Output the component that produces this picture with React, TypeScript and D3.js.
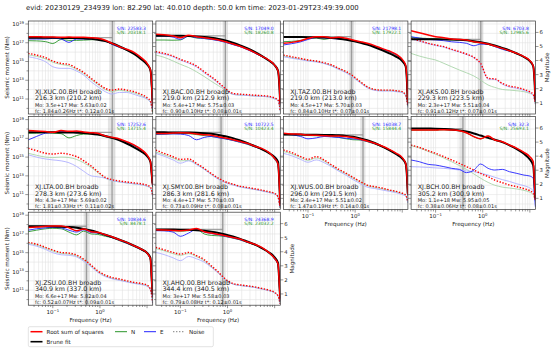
import * as d3 from "d3";

// frequency grid (Hz) shared by every spectrum
const FREQ = [0.03, 0.045, 0.07, 0.1, 0.15, 0.22, 0.32, 0.45, 0.65, 0.9, 1.3, 1.8, 2.6, 3.7, 5.3, 7.5, 10, 11.8, 12.6, 13.1];

const STATIONS = ["XJ.XUC.00.BH broadb", "XJ.BAC.00.BH broadb", "XJ.TAZ.00.BH broadb", "XJ.AKS.00.BH broadb", "XJ.LTA.00.BH broadb", "XJ.SMY.00.BH broadb", "XJ.WUS.00.BH broadb", "XJ.BCH.00.BH broadb", "XJ.ZSU.00.BH broadb", "XJ.AHQ.00.BH broadb"];
const DIST = ["216.3 km (210.2 km)", "219.0 km (212.9 km)", "219.0 km (213.0 km)", "229.3 km (223.5 km)", "278.3 km (273.6 km)", "286.3 km (281.6 km)", "296.0 km (291.5 km)", "305.2 km (300.9 km)", "340.9 km (337.0 km)", "344.4 km (340.5 km)"];
const MO_TEXT = ["3.5e+17", "5.4e+17", "4.5e+17", "2.3e+17", "4.3e+17", "4.4e+17", "2.4e+17", "1.1e+18", "6.6e+17", "3e+17"];
const MO_VAL = [3.5e17, 5.4e17, 4.5e17, 2.3e17, 4.3e17, 4.4e17, 2.4e17, 1.1e18, 6.6e17, 3e17];
const MW_TEXT = ["5.63±0.02", "5.75±0.03", "5.70±0.03", "5.51±0.04", "5.69±0.02", "5.70±0.03", "5.51±0.02", "5.95±0.05", "5.82±0.04", "5.58±0.03"];
const FC_VAL = [1.84, 0.9, 0.84, 0.91, 1.81, 0.73, 1.47, 0.38, 0.52, 0.79];
const FC_ERR = [0.26, 0.1, 0.1, 0.12, 0.33, 0.09, 0.19, 0.06, 0.07, 0.08];
const TSTAR_TEXT = ["0.12±0.01", "0.08±0.01", "0.07±0.01", "0.07±0.01", "0.11±0.02", "0.08±0.01", "0.14±0.01", "0.08±0.01", "0.09±0.01", "0.12±0.01"];
const SN_E = ["22583.3", "17049.0", "21798.1", "6703.8", "17252.6", "10722.5", "16038.7", "32.3", "10834.6", "24368.9"];
const SN_N = ["20318.1", "18260.8", "17922.1", "12985.6", "13715.4", "10423.4", "15844.4", "25693.1", "8478.1", "23032.2"];

// log10 seismic moment, one row per station
const rssLog = [
  [17.65, 17.65, 17.61, 17.61, 17.58, 17.61, 17.58, 17.58, 17.54, 17.47, 17.26, 16.94, 16.58, 16.3, 15.98, 15.41, 14.8, 14.09, 12.13, 10.17],
  [17.9, 17.86, 17.72, 17.54, 17.79, 17.65, 17.54, 17.43, 17.29, 17.11, 16.86, 16.65, 16.33, 15.98, 15.58, 15.16, 14.62, 14.0, 12.3, 10.4],
  [16.94, 17.04, 17.22, 17.47, 17.65, 17.65, 17.54, 17.58, 17.47, 17.29, 17.11, 16.94, 16.69, 16.4, 16.12, 15.76, 15.23, 14.62, 12.8, 10.5],
  [18.29, 18.07, 17.83, 17.65, 17.54, 17.4, 17.36, 17.29, 17.11, 17.01, 16.86, 16.65, 16.4, 16.15, 15.87, 15.51, 15.09, 14.52, 12.8, 10.8],
  [17.83, 17.79, 17.72, 17.65, 17.83, 17.75, 17.79, 17.68, 17.61, 17.54, 17.26, 17.11, 16.94, 16.65, 16.3, 15.83, 15.23, 14.52, 13.0, 12.0],
  [17.53, 17.53, 17.57, 17.6, 17.57, 17.46, 17.39, 17.32, 17.18, 17.04, 16.86, 16.68, 16.47, 16.18, 15.93, 15.51, 14.86, 14.26, 11.9, 9.8],
  [17.54, 17.47, 17.43, 17.36, 17.33, 17.29, 17.26, 17.26, 17.19, 17.08, 16.9, 16.72, 16.47, 16.19, 15.83, 15.41, 14.94, 14.34, 12.9, 11.0],
  [17.89, 17.89, 17.89, 17.89, 17.93, 17.89, 17.82, 17.6, 17.18, 16.96, 17.25, 16.82, 16.64, 16.29, 15.93, 15.51, 15.04, 14.51, 11.84, 10.42],
  [17.7, 17.74, 17.81, 17.84, 17.84, 17.67, 17.35, 17.52, 17.24, 17.17, 16.92, 16.7, 16.38, 16.1, 15.74, 15.39, 14.96, 14.32, 11.83, 10.41],
  [17.45, 17.42, 17.38, 17.35, 17.42, 17.59, 17.24, 17.1, 16.95, 16.81, 16.63, 16.46, 16.17, 15.92, 15.57, 15.03, 14.39, 13.79, 11.47, 9.9],
];
const nLog = [
  [17.22, 17.2, 17.12, 16.92, 17.35, 17.25, 17.25, 17.28, 17.32, 17.34, 17.2, 16.85, 16.5, 16.2, 15.85, 15.38, 14.65, 13.9, 11.5, 9.6],
  [17.29, 17.29, 17.27, 17.3, 17.7, 17.5, 17.45, 17.38, 17.25, 17.08, 16.83, 16.62, 16.3, 15.95, 15.55, 15.12, 14.58, 13.95, 12.2, 10.2],
  [17.11, 17.15, 17.25, 17.42, 17.5, 17.35, 17.5, 17.45, 17.38, 17.22, 17.05, 16.88, 16.63, 16.32, 16.02, 15.68, 15.12, 14.5, 12.6, 10.3],
  [17.58, 17.5, 17.45, 17.42, 17.36, 17.3, 17.3, 17.25, 17.05, 16.98, 16.82, 16.6, 16.35, 16.1, 15.82, 15.45, 15.02, 14.45, 12.7, 10.6],
  [17.54, 17.55, 17.6, 17.55, 17.5, 17.05, 17.3, 17.45, 17.45, 17.4, 17.15, 17.02, 16.86, 16.58, 16.22, 15.75, 15.15, 14.42, 12.85, 11.8],
  [17.4, 17.45, 17.5, 17.52, 17.5, 17.4, 17.3, 17.2, 17.1, 16.95, 16.78, 16.6, 16.38, 16.1, 15.83, 15.4, 14.75, 14.1, 11.7, 9.6],
  [17.42, 17.4, 17.38, 17.3, 17.28, 17.25, 17.2, 17.1, 16.95, 16.85, 16.82, 16.65, 16.4, 16.1, 15.75, 15.32, 14.85, 14.25, 12.8, 10.9],
  [17.87, 17.87, 17.87, 17.87, 17.91, 17.87, 17.8, 17.58, 17.16, 16.94, 17.23, 16.8, 16.62, 16.27, 15.91, 15.49, 15.02, 14.49, 11.8, 10.4],
  [17.24, 17.4, 17.55, 17.6, 17.55, 17.2, 16.9, 17.3, 17.0, 16.95, 16.75, 16.6, 16.28, 16.0, 15.65, 15.3, 14.88, 14.2, 11.7, 10.2],
  [17.38, 17.36, 17.33, 17.3, 17.35, 17.5, 17.0, 16.85, 16.8, 16.72, 16.55, 16.38, 16.1, 15.85, 15.5, 14.95, 14.3, 13.65, 11.3, 9.7],
];
const eLog = [
  [17.4, 17.4, 17.4, 17.47, 17.4, 17.04, 17.4, 17.4, 17.4, 17.36, 17.19, 16.83, 16.51, 16.22, 15.87, 15.41, 14.69, 13.98, 11.78, 10.0],
  [17.72, 17.72, 17.6, 17.36, 17.7, 17.55, 17.45, 17.36, 17.22, 17.05, 16.8, 16.6, 16.28, 15.93, 15.53, 15.1, 14.55, 13.9, 12.2, 10.3],
  [16.76, 16.9, 17.1, 17.35, 17.55, 17.5, 17.45, 17.4, 17.35, 17.2, 17.05, 16.88, 16.63, 16.35, 16.06, 15.7, 15.15, 14.55, 12.7, 10.4],
  [17.65, 17.5, 17.36, 17.3, 17.22, 17.1, 17.04, 16.94, 16.68, 16.86, 16.83, 16.6, 16.3, 16.1, 15.85, 15.5, 15.05, 14.48, 12.7, 10.7],
  [16.83, 17.2, 17.55, 17.62, 17.75, 17.7, 17.72, 17.62, 17.55, 17.45, 17.2, 17.05, 16.88, 16.6, 16.25, 15.78, 15.18, 14.45, 12.9, 11.9],
  [17.45, 17.45, 17.48, 17.45, 17.3, 16.85, 17.1, 17.2, 17.05, 16.95, 16.78, 16.6, 16.4, 16.12, 15.85, 15.45, 14.8, 14.2, 11.8, 9.7],
  [17.45, 17.38, 17.2, 16.95, 17.05, 17.2, 17.15, 17.1, 17.0, 16.95, 16.85, 16.68, 16.43, 16.15, 15.78, 15.36, 14.9, 14.3, 12.8, 10.9],
  [14.69, 14.51, 14.22, 14.15, 13.98, 13.8, 13.69, 13.34, 13.62, 14.26, 13.8, 13.62, 13.69, 13.44, 13.26, 13.08, 12.98, 12.73, 10.77, 9.7],
  [17.4, 17.55, 17.65, 17.7, 17.65, 17.4, 17.2, 17.45, 17.15, 17.1, 16.85, 16.62, 16.32, 16.02, 15.68, 15.32, 14.9, 14.25, 11.8, 10.3],
  [17.35, 17.33, 17.2, 16.75, 17.1, 17.5, 17.2, 17.05, 16.9, 16.75, 16.58, 16.4, 16.12, 15.88, 15.52, 14.98, 14.32, 13.7, 11.4, 9.8],
];
const bruneLog = [
  [17.54, 17.54, 17.54, 17.53, 17.52, 17.51, 17.5, 17.47, 17.42, 17.33, 17.17, 16.95, 16.62, 16.25, 15.8, 15.25, 14.7, 14.1, 12.5, 10.8],
  [17.76, 17.76, 17.75, 17.74, 17.72, 17.68, 17.62, 17.53, 17.4, 17.25, 17.0, 16.75, 16.42, 16.05, 15.6, 15.1, 14.6, 14.0, 12.4, 10.6],
  [17.62, 17.62, 17.61, 17.6, 17.58, 17.55, 17.5, 17.43, 17.32, 17.18, 17.0, 16.8, 16.52, 16.22, 15.87, 15.5, 15.05, 14.5, 12.8, 10.7],
  [17.38, 17.38, 17.37, 17.37, 17.36, 17.34, 17.31, 17.26, 17.17, 17.06, 16.9, 16.72, 16.45, 16.18, 15.85, 15.48, 15.05, 14.5, 12.8, 10.9],
  [17.65, 17.65, 17.65, 17.64, 17.63, 17.62, 17.6, 17.57, 17.5, 17.4, 17.25, 17.05, 16.78, 16.45, 16.05, 15.6, 15.1, 14.5, 13.1, 12.2],
  [17.64, 17.64, 17.63, 17.63, 17.62, 17.6, 17.55, 17.48, 17.36, 17.22, 17.02, 16.8, 16.52, 16.2, 15.85, 15.45, 15.0, 14.5, 12.2, 10.0],
  [17.4, 17.4, 17.4, 17.39, 17.38, 17.37, 17.35, 17.32, 17.26, 17.17, 17.0, 16.8, 16.5, 16.15, 15.75, 15.3, 14.85, 14.3, 12.9, 11.1],
  [18.05, 18.05, 18.04, 18.03, 18.0, 17.95, 17.85, 17.72, 17.52, 17.3, 17.05, 16.85, 16.6, 16.25, 15.85, 15.35, 14.75, 14.1, 12.0, 10.6],
  [17.82, 17.82, 17.81, 17.8, 17.78, 17.74, 17.66, 17.54, 17.36, 17.16, 16.92, 16.68, 16.4, 16.1, 15.75, 15.38, 14.98, 14.45, 12.0, 10.6],
  [17.48, 17.48, 17.47, 17.46, 17.44, 17.4, 17.33, 17.24, 17.1, 16.94, 16.72, 16.5, 16.2, 15.9, 15.5, 15.05, 14.5, 13.9, 11.7, 10.1],
];
const noiseRssLog = [
  [15.87, 15.69, 15.41, 15.05, 14.8, 14.69, 14.27, 13.84, 13.2, 12.67, 12.13, 11.95, 12.06, 11.95, 11.78, 11.49, 11.14, 10.78, 10.17, 9.64],
  [16.05, 15.87, 15.58, 15.23, 14.91, 14.52, 13.91, 13.38, 12.74, 12.13, 11.6, 11.52, 11.47, 11.41, 11.36, 11.3, 11.1, 10.9, 10.4, 9.8],
  [15.69, 15.51, 15.33, 15.16, 15.05, 14.87, 14.62, 14.27, 13.91, 13.45, 12.84, 12.31, 12.02, 11.95, 11.95, 11.88, 11.78, 11.42, 10.89, 10.17],
  [17.47, 17.22, 16.94, 16.76, 16.58, 16.3, 16.05, 15.8, 15.44, 14.8, 13.2, 13.15, 12.67, 12.38, 12.24, 12.02, 11.77, 11.5, 11.0, 10.5],
  [15.94, 15.69, 15.41, 15.33, 15.41, 15.3, 15.05, 14.62, 14.05, 13.45, 12.84, 12.6, 12.45, 12.35, 12.25, 12.15, 12.0, 11.8, 11.4, 10.9],
  [15.75, 15.4, 15.04, 14.76, 14.8, 14.33, 13.8, 13.26, 12.73, 12.37, 12.12, 11.91, 11.77, 11.63, 11.48, 11.31, 11.13, 10.77, 10.06, 9.63],
  [15.76, 15.48, 15.05, 14.77, 15.05, 14.69, 14.16, 13.7, 13.27, 12.84, 12.38, 12.02, 11.85, 11.7, 11.5, 11.34, 11.15, 10.98, 10.6, 10.2],
  [16.28, 16.04, 15.68, 15.4, 15.04, 14.69, 14.33, 13.98, 13.62, 13.26, 12.91, 12.55, 12.27, 12.02, 11.84, 11.63, 11.41, 11.13, 10.7, 10.42],
  [16.1, 15.92, 15.57, 15.28, 15.03, 14.96, 14.75, 14.32, 13.68, 13.07, 12.61, 12.36, 12.19, 12.01, 11.83, 11.72, 11.54, 11.12, 10.41, 9.7],
  [15.57, 15.32, 15.03, 14.85, 15.03, 14.68, 14.25, 13.61, 12.9, 12.19, 11.72, 11.58, 11.47, 11.37, 11.19, 11.01, 10.76, 10.41, 9.9, 9.55],
];
const noiseNLog = [
  [15.72, 15.55, 15.28, 14.92, 14.68, 14.55, 14.15, 13.72, 13.08, 12.55, 12.0, 11.82, 11.93, 11.83, 11.65, 11.36, 11.0, 10.65, 10.05, 9.55],
  [15.69, 15.45, 15.05, 14.7, 14.35, 13.9, 13.4, 12.9, 12.4, 11.95, 11.5, 11.42, 11.38, 11.32, 11.28, 11.22, 11.02, 10.82, 10.3, 9.7],
  [15.6, 15.42, 15.25, 15.1, 15.0, 14.8, 14.55, 14.2, 13.85, 13.38, 12.78, 12.26, 11.97, 11.9, 11.9, 11.83, 11.73, 11.37, 10.85, 10.12],
  [15.87, 15.58, 15.33, 15.16, 14.8, 14.44, 14.09, 13.8, 13.45, 13.02, 12.49, 12.24, 12.02, 11.95, 11.88, 11.78, 11.6, 11.42, 10.95, 10.45],
  [15.41, 15.2, 15.0, 14.95, 15.0, 14.95, 14.75, 14.4, 13.9, 13.35, 12.75, 12.5, 12.35, 12.25, 12.15, 12.05, 11.9, 11.7, 11.3, 10.8],
  [15.55, 15.25, 14.9, 14.6, 14.65, 14.25, 13.72, 13.18, 12.65, 12.3, 12.05, 11.85, 11.7, 11.57, 11.42, 11.25, 11.07, 10.72, 10.02, 9.58],
  [15.6, 15.35, 14.95, 14.65, 14.9, 14.58, 14.05, 13.6, 13.18, 12.75, 12.3, 11.95, 11.78, 11.62, 11.45, 11.28, 11.08, 10.92, 10.55, 10.15],
  [16.23, 15.98, 15.6, 15.3, 14.9, 14.5, 14.1, 13.7, 13.2, 12.75, 12.3, 12.0, 11.8, 11.7, 11.6, 11.45, 11.25, 11.0, 10.6, 10.3],
  [16.0, 15.82, 15.47, 15.18, 14.92, 14.85, 14.65, 14.22, 13.58, 12.98, 12.52, 12.28, 12.1, 11.93, 11.76, 11.65, 11.47, 11.05, 10.35, 9.65],
  [15.45, 15.2, 14.9, 14.72, 14.9, 14.58, 14.15, 13.52, 12.82, 12.12, 11.66, 11.52, 11.42, 11.32, 11.14, 10.97, 10.72, 10.37, 9.87, 9.52],
];
const noiseELog = [
  [15.51, 15.33, 14.98, 14.44, 14.27, 14.27, 13.98, 13.56, 12.84, 12.31, 11.78, 11.53, 11.7, 11.7, 11.49, 11.24, 10.99, 10.64, 10.07, 9.57],
  [15.95, 15.78, 15.5, 15.15, 14.82, 14.42, 13.8, 13.28, 12.64, 12.03, 11.5, 11.42, 11.38, 11.32, 11.28, 11.22, 11.02, 10.82, 10.3, 9.7],
  [15.5, 15.35, 15.2, 15.05, 14.95, 14.78, 14.5, 14.15, 13.78, 13.3, 12.7, 12.2, 11.92, 11.85, 11.85, 11.78, 11.68, 11.32, 10.8, 10.1],
  [17.42, 17.17, 16.89, 16.71, 16.53, 16.25, 16.0, 15.75, 15.39, 14.75, 13.12, 13.08, 12.58, 12.28, 12.14, 11.92, 11.67, 11.4, 10.9, 10.4],
  [15.25, 15.0, 14.8, 14.7, 14.6, 14.4, 14.0, 13.5, 13.0, 12.9, 12.75, 12.5, 12.35, 12.25, 12.15, 12.05, 11.9, 11.7, 11.3, 10.8],
  [15.4, 15.1, 14.7, 14.35, 14.6, 14.2, 13.7, 13.15, 12.62, 12.28, 12.02, 11.82, 11.68, 11.55, 11.4, 11.22, 11.05, 10.7, 10.0, 9.55],
  [15.4, 15.15, 14.75, 14.45, 14.7, 14.4, 13.95, 13.5, 13.05, 12.6, 12.15, 11.8, 11.65, 11.5, 11.35, 11.2, 11.0, 10.85, 10.5, 10.1],
  [13.98, 13.95, 13.9, 13.85, 13.8, 13.72, 13.62, 13.52, 13.44, 13.3, 13.08, 12.85, 12.6, 12.4, 12.15, 11.95, 11.7, 11.4, 10.9, 10.5],
  [15.9, 15.7, 15.35, 15.0, 14.78, 14.72, 14.55, 14.1, 13.5, 12.9, 12.45, 12.22, 12.05, 11.88, 11.72, 11.6, 11.42, 11.0, 10.3, 9.6],
  [15.03, 14.8, 14.45, 14.15, 14.6, 14.35, 14.0, 13.45, 12.78, 12.1, 11.65, 11.5, 11.4, 11.3, 11.12, 10.95, 10.7, 10.35, 9.85, 9.5],
];

const Y_TICKS = [11, 13, 15, 17, 19];
const MAG_TICKS = [1, 2, 3, 4, 5, 6];
const TITLE = "evid: 20230129_234939 lon: 82.290 lat: 40.010 depth: 50.0 km time: 2023-01-29T23:49:39.000";

const W = 553;
const H = 351;
const PW = 124.4;
const PH = 93;
const COL_X = [28.3, 155.9, 283.5, 411.1];
const ROW_Y = [21, 116.6, 212.2];
const FONT = "DejaVu Sans, sans-serif";

const RED = "#ff0000";
const GREEN = "#2a962a";
const BLUE = "#2424ff";

const x = d3.scaleLog().domain([0.0302, 13.18]).range([0, PW]);
const y = d3.scaleLog().domain([10 ** 9.4, 10 ** 19.32]).range([PH, 0]);
const mag = d3.scaleLinear().domain([0.2, 6.813]).range([PH, 0]);

const line = d3
  .line<number>()
  .x((_d, j) => x(FREQ[j]))
  .y((v) => y(10 ** v))
  .curve(d3.curveMonotoneX);

function Pow({ base, exp, supSize = 3.8, ...rest }: any) {
  return (
    <text {...rest}>
      {base}
      <tspan dy={-2.3} fontSize={supSize}>
        {exp}
      </tspan>
    </text>
  );
}

function Panel({ i }: { i: number }) {
  const row = Math.floor(i / 4);
  const col = i % 4;
  const fc = FC_VAL[i];
  const err = FC_ERR[i];
  const showX = i >= 6;
  const showMag = col === 3 || i === 9;
  const xTicks = x.ticks();
  const decades = d3.range(10, 20);

  return (
    <g transform={`translate(${COL_X[col]},${ROW_Y[row]})`} fontFamily={FONT}>
      <clipPath id={`clip${i}`}>
        <rect width={PW} height={PH} />
      </clipPath>
      <rect width={PW} height={PH} fill="white" />
      <g clipPath={`url(#clip${i})`}>
        {xTicks.map((t) => (
          <line key={`gx${t}`} x1={x(t)} x2={x(t)} y1={0} y2={PH} stroke="#e2e2e2" strokeWidth={0.6} />
        ))}
        {decades.map((k) => (
          <line key={`gy${k}`} x1={0} x2={PW} y1={y(10 ** k)} y2={y(10 ** k)} stroke="#e2e2e2" strokeWidth={0.6} />
        ))}
        <rect x={x(fc - err)} width={x(fc + err) - x(fc - err)} y={0} height={PH} fill="#888" opacity={0.22} />
        <line x1={x(fc)} x2={x(fc)} y1={0} y2={PH} stroke="#8c8c8c" strokeWidth={1.3} opacity={0.8} />
        <line x1={0} x2={x(fc)} y1={y(MO_VAL[i])} y2={y(MO_VAL[i])} stroke="#8c8c8c" strokeWidth={1.3} opacity={0.8} />
        <path d={line(noiseNLog[i]) ?? ""} fill="none" stroke="#aad5aa" strokeWidth={0.9} />
        <path d={line(noiseELog[i]) ?? ""} fill="none" stroke="#b0b0ff" strokeWidth={0.9} />
        <path d={line(noiseRssLog[i]) ?? ""} fill="none" stroke={RED} strokeWidth={1.4} strokeDasharray="1.4,1.6" />
        <path d={line(nLog[i]) ?? ""} fill="none" stroke={GREEN} strokeWidth={0.9} />
        <path d={line(eLog[i]) ?? ""} fill="none" stroke={BLUE} strokeWidth={0.9} />
        <path d={line(bruneLog[i]) ?? ""} fill="none" stroke="#000" strokeWidth={2} />
        <path d={line(rssLog[i]) ?? ""} fill="none" stroke={RED} strokeWidth={1.5} />
      </g>
      <rect width={PW} height={PH} fill="none" stroke="#333" strokeWidth={0.7} />

      {/* ticks */}
      {xTicks.map((t) => {
        const major = Math.abs(Math.log10(t) - Math.round(Math.log10(t))) < 1e-6;
        return <line key={`tx${t}`} x1={x(t)} x2={x(t)} y1={PH} y2={PH + (major ? 3 : 1.8)} stroke="#333" strokeWidth={0.5} />;
      })}
      {decades.map((k) => (
        <line key={`ty${k}`} x1={0} x2={k % 2 ? -3 : -1.8} y1={y(10 ** k)} y2={y(10 ** k)} stroke="#333" strokeWidth={0.5} />
      ))}
      {MAG_TICKS.map((m) => (
        <line key={`tm${m}`} x1={PW} x2={PW + 3} y1={mag(m)} y2={mag(m)} stroke="#333" strokeWidth={0.5} />
      ))}

      {/* labels inside */}
      <text x={6.7} y={72.5} fontSize={6.3} fill="#222">{STATIONS[i]}</text>
      <text x={6.7} y={79} fontSize={6.3} fill="#222">{DIST[i]}</text>
      <text x={6.7} y={85.5} fontSize={5} fill="#222">{`Mo: ${MO_TEXT[i]} Mw: ${MW_TEXT[i]}`}</text>
      <text x={6.7} y={91.5} fontSize={5} fill="#222">{`fc: ${fc.toFixed(2)}±${err.toFixed(2)}Hz t*: ${TSTAR_TEXT[i]}s`}</text>
      <text x={PW - 6.7} y={9} fontSize={4.5} fill={BLUE} textAnchor="end">{`S/N: ${SN_E[i]}`}</text>
      <text x={PW - 6.7} y={13.3} fontSize={4.5} fill={GREEN} textAnchor="end">{`S/N: ${SN_N[i]}`}</text>

      {col === 0 &&
        Y_TICKS.map((k) => (
          <Pow key={`yl${k}`} base="10" exp={k} x={-4.3} y={y(10 ** k) + 2.2} fontSize={5.5} textAnchor="end" fill="#222" />
        ))}
      {col === 0 && (
        <text transform={`translate(${9 - COL_X[0]},${PH / 2}) rotate(-90)`} fontSize={5.6} textAnchor="middle" fill="#222">
          Seismic moment (Nm)
        </text>
      )}
      {showX && (
        <g>
          <Pow base="10" exp="−1" x={x(0.1)} y={PH + 8.7} fontSize={5.5} textAnchor="middle" fill="#222" />
          <Pow base="10" exp="0" x={x(1)} y={PH + 8.7} fontSize={5.5} textAnchor="middle" fill="#222" />
          <text x={PW / 2} y={PH + 16.5} fontSize={5.6} textAnchor="middle" fill="#222">
            Frequency (Hz)
          </text>
        </g>
      )}
      {showMag && (
        <g>
          {MAG_TICKS.map((m) => (
            <text key={`ml${m}`} x={PW + 4} y={mag(m) + 1.9} fontSize={5.3} fill="#222">
              {m}
            </text>
          ))}
          <text transform={`translate(${PW + 13.2},${PH / 2}) rotate(-90)`} fontSize={5.6} textAnchor="middle" fill="#222">
            Magnitude
          </text>
        </g>
      )}
    </g>
  );
}

function Legend() {
  const lx = 28.3;
  const ly = 326.7;
  const r1 = ly + 5;
  const r2 = ly + 15;
  const items = [
    { x: 30.5, label: "Root sum of squares", stroke: RED, w: 1.5, dash: undefined as string | undefined },
    { x: 115, label: "N", stroke: GREEN, w: 1, dash: undefined },
    { x: 144, label: "E", stroke: BLUE, w: 1, dash: undefined },
    { x: 173, label: "Noise", stroke: "#999", w: 1.3, dash: "1.4,1.6" },
  ];
  return (
    <g fontFamily={FONT} fontSize={5.6} fill="#222">
      <rect x={lx} y={ly} width={185} height={20} rx={1.5} fill="white" stroke="#d0d0d0" strokeWidth={0.6} />
      {items.map((it) => (
        <g key={it.label}>
          <line x1={it.x} x2={it.x + 12} y1={r1} y2={r1} stroke={it.stroke} strokeWidth={it.w} strokeDasharray={it.dash} />
          <text x={it.x + 16} y={r1 + 2}>{it.label}</text>
        </g>
      ))}
      <line x1={30.5} x2={42.5} y1={r2} y2={r2} stroke="#000" strokeWidth={1.6} />
      <text x={46.5} y={r2 + 2}>Brune fit</text>
    </g>
  );
}

export default function App() {
  return (
    <svg
      width={W}
      height={H}
      viewBox={`0 0 ${W} ${H}`}
      style={{ position: "absolute", left: 0, top: 0, background: "white" }}
    >
      <rect width={W} height={H} fill="white" />
      <text x={26} y={9.8} fontFamily={FONT} fontSize={6.9} fill="#222">
        {TITLE}
      </text>
      {STATIONS.map((_s, i) => (
        <Panel key={i} i={i} />
      ))}
      <Legend />
    </svg>
  );
}
